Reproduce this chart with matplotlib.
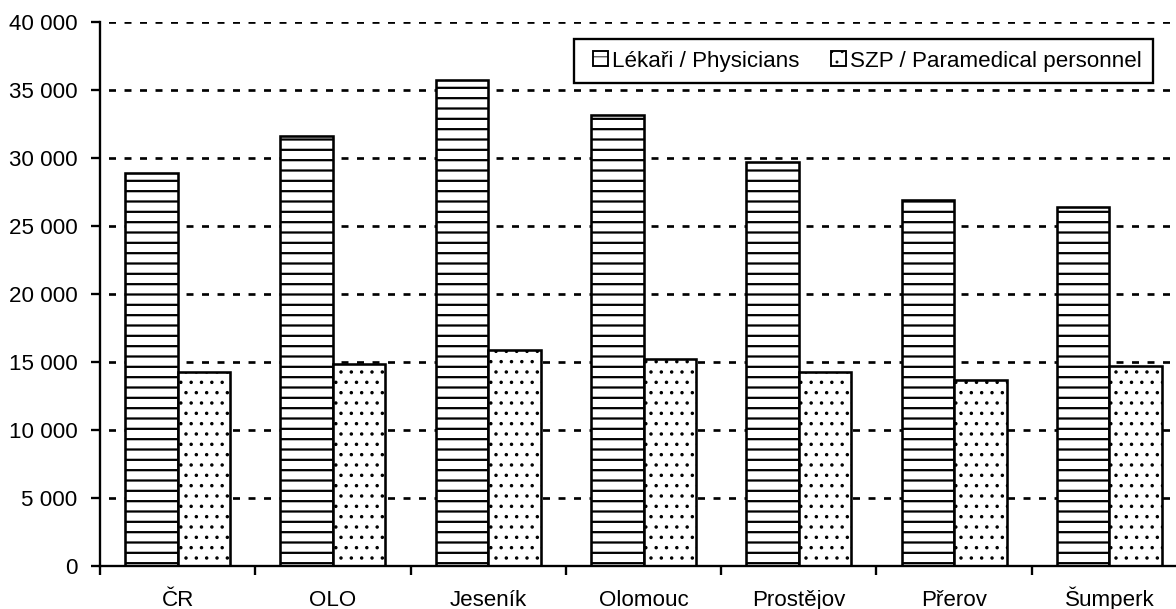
import matplotlib
matplotlib.use("Agg")
import matplotlib.pyplot as plt
import matplotlib.patches as mpatches
import numpy as np
from matplotlib.ticker import FuncFormatter
from matplotlib.legend_handler import HandlerPatch

# data
categories = ["ČR", "OLO", "Jeseník", "Olomouc", "Prostějov", "Přerov", "Šumperk"]
lekari = [28900, 31650, 35700, 33150, 29700, 26900, 26400]
szp = [14300, 14850, 15850, 15200, 14250, 13650, 14700]
series_names = ["Lékaři / Physicians", "SZP / Paramedical personnel"]
y_ticks = [0, 5000, 10000, 15000, 20000, 25000, 30000, 35000, 40000]

DPI = 62  # hatch unit = 1 inch -> 6 lines per 62 px
W, H = 1176, 609
FS = 26
em = FS * DPI / 72  # font size in px

plt.rcParams["font.family"] = ["Liberation Sans", "DejaVu Sans"]
plt.rcParams["font.size"] = FS
plt.rcParams["hatch.color"] = "black"
plt.rcParams["lines.scale_dashes"] = False

fig = plt.figure(figsize=(W / DPI, H / DPI), dpi=DPI)
ax = fig.add_axes([100 / W, 1 - 566 / H, 1087 / W, 544 / H])

x = np.arange(len(categories))
w = 0.338
with plt.rc_context({"hatch.linewidth": 2.6}):
    b1 = ax.bar(x - w / 2, lekari, w, color="white", edgecolor="black", linewidth=3.0, hatch="-")
with plt.rc_context({"hatch.linewidth": 1.6}):
    b2 = ax.bar(x + w / 2, szp, w, color="white", edgecolor="black", linewidth=3.0, hatch=".")
for bars, hl in ((b1, 2.6), (b2, 1.6)):
    for p in bars:
        if hasattr(p, "set_hatch_linewidth"):
            p.set_hatch_linewidth(hl)

ax.set_xlim(-0.5, len(categories) - 0.5)
ax.set_ylim(0, 40000)
ax.set_yticks(y_ticks)
ax.yaxis.set_major_formatter(FuncFormatter(lambda v, p: f"{v:,.0f}".replace(",", " ")))

# ticks between categories, labels in the middle
ax.set_xticks(np.arange(len(categories) + 1) - 0.5)
ax.set_xticklabels([])
ax.set_xticks(x, minor=True)
ax.set_xticklabels(categories, minor=True)
ax.tick_params(axis="x", which="minor", length=0, pad=46)
ax.tick_params(axis="x", which="major", length=11, width=2.7, direction="out")
ax.tick_params(axis="y", length=11, width=2.7, pad=15)
for lab in ax.get_xticklabels(minor=True):
    lab.set_verticalalignment("baseline")

ax.spines[["top", "right"]].set_visible(False)
ax.spines["left"].set_linewidth(2.7)
ax.spines["bottom"].set_linewidth(2.7)

ax.set_axisbelow(True)
ax.yaxis.grid(True, color="black", linewidth=3.1, linestyle=(8.1, (8.1, 9.9)))

leg = ax.legend([b1[0], b2[0]], series_names, ncol=2, loc="upper left",
                bbox_to_anchor=(574 / W, 1 - 39 / H), bbox_transform=fig.transFigure,
                borderaxespad=0, frameon=True, fancybox=False, edgecolor="black",
                framealpha=1, handlelength=22 / em, handleheight=15 / em,
                handletextpad=4 / em, columnspacing=25 / em, borderpad=11.5 / em,
                handler_map={mpatches.Rectangle: HandlerPatch(xpad=7 / em)})
leg.get_frame().set_linewidth(2.7)
for h in leg.legend_handles:
    h.set_linewidth(2.2)

fig.savefig("out.png", dpi=DPI)
